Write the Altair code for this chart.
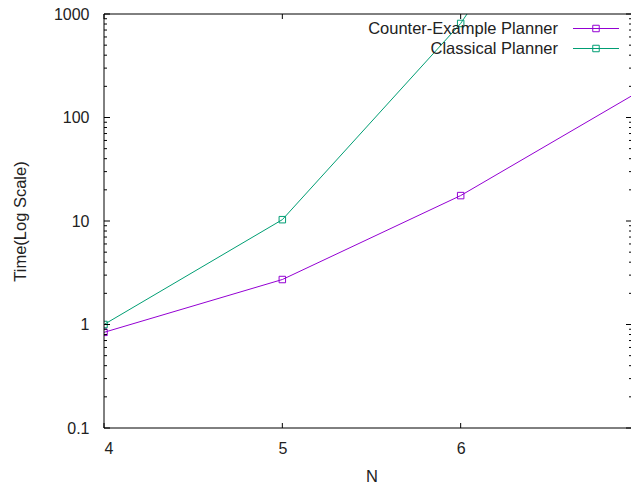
import altair as alt
import pandas as pd

# ---- data ----
N_values = [4, 5, 6, 7]
counter_example = [0.84, 2.72, 17.6, 178]
classical = [1.0, 10.3, 810, 300000]
series_names = ["Counter-Example Planner", "Classical Planner"]
series_colors = ["#9400D3", "#009E73"]

x_ticks = [4, 5, 6]
y_major = [0.1, 1, 10, 100, 1000]
y_minor = [m * d for d in [0.1, 1, 10, 100] for m in range(2, 10)]

FONT = "Liberation Sans"
# the reference plot area runs past the right edge of the picture (N=7 sits at the edge)
FULL_W = 535
W, H = 527, 414
X_MAX = 4 + 3 * W / FULL_W

rows = []
for n, a, b in zip(N_values, counter_example, classical):
    rows.append({"N": n, "Time": a, "series": series_names[0]})
    rows.append({"N": n, "Time": b, "series": series_names[1]})
df = pd.DataFrame(rows)

xscale = alt.Scale(domain=[4, X_MAX], nice=False, zero=False)
yscale = alt.Scale(type="log", domain=[0.1, 1000], nice=False)
color = alt.Color("series:N", scale=alt.Scale(domain=series_names, range=series_colors), legend=None)

x_enc = alt.X("N:Q", scale=xscale,
              axis=alt.Axis(values=x_ticks, format="d", ticks=False, domain=False, grid=False,
                            labelPadding=12, labelFontSize=16, labelFont=FONT, labelColor="#222",
                            title="N", titleFont=FONT, titleFontSize=16.5, titleFontWeight="normal",
                            titleColor="#222", titleX=FULL_W / 2, titleY=48, titleBaseline="middle"))
y_enc = alt.Y("Time:Q", scale=yscale,
              axis=alt.Axis(values=y_major, format="~g", ticks=False, domain=False, grid=False,
                            labelPadding=15, labelFontSize=16, labelFont=FONT, labelColor="#222",
                            title="Time(Log Scale)", titleFont=FONT, titleFontSize=16.5,
                            titleFontWeight="normal", titleColor="#222", titleAngle=-90,
                            titleX=-84, titleY=H / 2, titleAlign="center", titleBaseline="middle"))

lines = alt.Chart(df).mark_line(strokeWidth=1, clip=True).encode(
    x=x_enc, y=y_enc, color=color, detail="series:N")
points = alt.Chart(df).mark_point(shape="square", size=42, filled=False, strokeWidth=1, clip=True,
                                  opacity=1).encode(
    x=alt.X("N:Q", scale=xscale), y=alt.Y("Time:Q", scale=yscale), color=color)

# border (left, top, bottom; the right one is outside the picture)
bdf = pd.DataFrame({"k": [0]})
border = (
    alt.Chart(bdf).mark_rule(color="black", strokeWidth=1).encode(x=alt.value(0), y=alt.value(0), y2=alt.value(H))
    + alt.Chart(bdf).mark_rule(color="black", strokeWidth=1).encode(x=alt.value(0), x2=alt.value(W), y=alt.value(0))
    + alt.Chart(bdf).mark_rule(color="black", strokeWidth=1).encode(x=alt.value(0), x2=alt.value(W), y=alt.value(H))
)

# tick marks (inward, mirrored like gnuplot)
ymaj_df = pd.DataFrame({"v": y_major})
ymin_df = pd.DataFrame({"v": y_minor})
x_df = pd.DataFrame({"v": x_ticks})

def yticks(d, length):
    left = alt.Chart(d).mark_rule(color="black", strokeWidth=1).encode(
        y=alt.Y("v:Q", scale=yscale), x=alt.value(0), x2=alt.value(length))
    right = alt.Chart(d).mark_rule(color="black", strokeWidth=1).encode(
        y=alt.Y("v:Q", scale=yscale), x=alt.value(W), x2=alt.value(W - length + 1))
    return left + right

xt_bottom = alt.Chart(x_df).mark_rule(color="black", strokeWidth=1).encode(
    x=alt.X("v:Q", scale=xscale), y=alt.value(H), y2=alt.value(H - 5))
xt_top = alt.Chart(x_df).mark_rule(color="black", strokeWidth=1).encode(
    x=alt.X("v:Q", scale=xscale), y=alt.value(0), y2=alt.value(5))

# legend (gnuplot style: label left, sample right)
leg_layers = []
for i, (name, col) in enumerate(zip(series_names, series_colors)):
    ly = 14.5 + 20 * i
    ldf = pd.DataFrame({"series": [name]})
    leg_layers.append(alt.Chart(ldf).mark_text(align="right", baseline="middle", font=FONT,
                                               fontSize=16.5, color="#222").encode(
        text="series:N", x=alt.value(454), y=alt.value(ly)))
    leg_layers.append(alt.Chart(ldf).mark_rule(color=col, strokeWidth=1).encode(
        x=alt.value(469), x2=alt.value(515), y=alt.value(ly)))
    leg_layers.append(alt.Chart(ldf).mark_point(shape="square", size=42, filled=False,
                                                strokeWidth=1, color=col, opacity=1).encode(
        x=alt.value(492), y=alt.value(ly)))

chart = alt.layer(
    lines, points, border, yticks(ymaj_df, 6), yticks(ymin_df, 3), xt_bottom, xt_top, *leg_layers
).properties(
    width=W, height=H,
    autosize=alt.AutoSizeParams(type="none"),
    padding={"left": 96, "top": 6, "right": 0, "bottom": 59},
    background="white",
).configure_view(stroke=None)

chart.save("out.html", embed_options={"renderer": "svg", "actions": False})
